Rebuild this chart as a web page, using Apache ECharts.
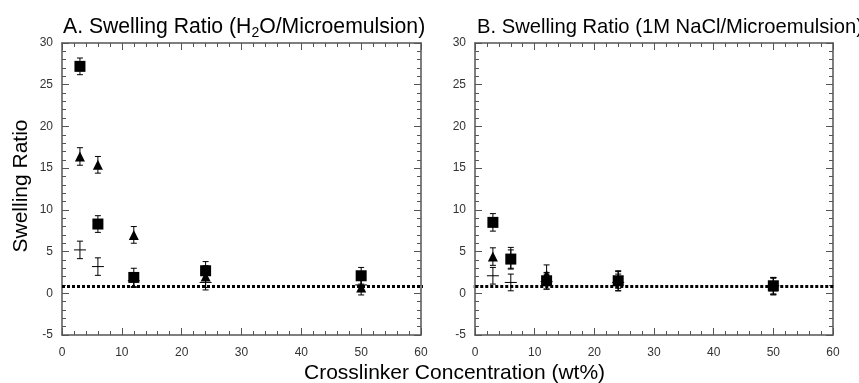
<!DOCTYPE html>
<html>
<head>
<meta charset="utf-8">
<script src="https://cdn.jsdelivr.net/npm/echarts@6/dist/echarts.min.js"></script>
<style>
  html, body { margin: 0; padding: 0; background: #fff; }
  #chart { width: 859px; height: 383px; }
</style>
</head>
<body>
<div id="chart"></div>
<script>
// crosslinker concentration (wt%)
const xConc = [3, 6, 12, 24, 50];

// panel A: H2O / microemulsion
const aSquare = [27.2, 8.3, 1.9, 2.7, 2.1];
const aSquareErr = [1.0, 1.0, 1.1, 1.1, 1.0];
const aTri = [16.4, 15.4, 7.0, 2.0, 0.7];
const aTriErr = [1.05, 1.0, 1.0, 1.3, 0.9];
const aCross = [5.2, 3.2, 1.5, 1.3, 1.0];
const aCrossErr = [1.05, 1.05, 0.8, 0.9, 0.8];

// panel B: 1M NaCl / microemulsion
const bSquare = [8.5, 4.1, 1.5, 1.5, 0.9];
const bSquareErr = [1.05, 1.1, 1.0, 1.2, 1.0];
const bTri = [4.4, 4.2, 2.2, 1.6, 0.8];
const bTriErr = [1.05, 1.3, 1.2, 1.0, 1.0];
const bCross = [2.1, 1.3, 1.4, 1.3, 0.9];
const bCrossErr = [1.0, 1.0, 0.9, 1.0, 1.0];

// reference line (ratio ~1) drawn across both panels
const refY = 0.8;
const refXA = [0, 61.2];
const refXB = [-7.5, 60.5];

const FONT = '"Liberation Sans", Arial, sans-serif';
const AXIS_COLOR = '#555';

function errItem(withDash) {
  return (params, api) => {
    const x = api.value(0), y = api.value(1), e = api.value(2);
    const top = api.coord([x, y + e]);
    const bot = api.coord([x, y - e]);
    const mid = api.coord([x, y]);
    const style = { stroke: '#000', lineWidth: 1 };
    const children = [
      { type: 'line', shape: { x1: top[0], y1: top[1], x2: bot[0], y2: bot[1] }, style },
      { type: 'line', shape: { x1: top[0] - 3, y1: top[1], x2: top[0] + 3, y2: top[1] }, style },
      { type: 'line', shape: { x1: bot[0] - 3, y1: bot[1], x2: bot[0] + 3, y2: bot[1] }, style },
    ];
    if (withDash) {
      children.push({ type: 'line', shape: { x1: mid[0] - 6, y1: mid[1], x2: mid[0] + 6, y2: mid[1] }, style });
    }
    return { type: 'group', children };
  };
}

function zip(xs, ys, es) {
  return xs.map((x, i) => (es ? [x, ys[i], es[i]] : [x, ys[i]]));
}

function axesFor(gridIndex) {
  const tick = { show: true, inside: true, length: 7, lineStyle: { color: AXIS_COLOR, width: 1 } };
  const minor = { show: true, splitNumber: 5, length: 4, lineStyle: { color: AXIS_COLOR, width: 1 } };
  const line = { show: true, onZero: false, lineStyle: { color: AXIS_COLOR, width: 1.5 } };
  const label = { color: '#333', fontSize: 12, fontFamily: FONT };
  return {
    x: [
      { gridIndex, type: 'value', min: 0, max: 60, interval: 10, position: 'bottom',
        axisLine: line, axisTick: tick, minorTick: minor, splitLine: { show: false },
        axisLabel: Object.assign({ margin: 12 }, label) },
      { gridIndex, type: 'value', min: 0, max: 60, interval: 10, position: 'top',
        axisLine: line, axisTick: tick, minorTick: minor, splitLine: { show: false },
        axisLabel: { show: false } },
    ],
    y: [
      { gridIndex, type: 'value', min: -5, max: 30, interval: 5, position: 'left',
        axisLine: line, axisTick: tick, minorTick: minor, splitLine: { show: false },
        axisLabel: Object.assign({ margin: 9 }, label),
        name: gridIndex === 0 ? 'Swelling Ratio' : '', nameLocation: 'middle', nameGap: 30,
        nameTextStyle: { fontSize: 21, color: '#000', fontFamily: FONT, padding: [0, 0, 0, 6] } },
      { gridIndex, type: 'value', min: -5, max: 30, interval: 5, position: 'right',
        axisLine: line, axisTick: tick, minorTick: minor, splitLine: { show: false },
        axisLabel: { show: false } },
    ],
  };
}

function panelSeries(p, sq, sqE, tri, triE, cr, crE, refX) {
  const xi = p * 2, yi = p * 2;
  return [
    { type: 'line', xAxisIndex: xi, yAxisIndex: yi, data: refX.map((x) => [x, refY]),
      symbol: 'none', clip: false, z: 1,
      lineStyle: { color: '#000', width: 3, type: [3, 2] } },
    { type: 'custom', xAxisIndex: xi, yAxisIndex: yi, renderItem: errItem(true), data: zip(xConc, cr, crE), z: 3 },
    { type: 'custom', xAxisIndex: xi, yAxisIndex: yi, renderItem: errItem(false), data: zip(xConc, tri, triE), z: 3 },
    { type: 'scatter', xAxisIndex: xi, yAxisIndex: yi, symbol: 'triangle', symbolSize: 10,
      itemStyle: { color: '#000', opacity: 1 }, data: zip(xConc, tri), z: 4 },
    { type: 'custom', xAxisIndex: xi, yAxisIndex: yi, renderItem: errItem(false), data: zip(xConc, sq, sqE), z: 3 },
    { type: 'scatter', xAxisIndex: xi, yAxisIndex: yi, symbol: 'rect', symbolSize: 11,
      itemStyle: { color: '#000', opacity: 1 }, data: zip(xConc, sq), z: 5 },
  ];
}

const axA = axesFor(0);
const axB = axesFor(1);

const chart = echarts.init(document.getElementById('chart'));
chart.setOption({
  animation: false,
  backgroundColor: '#fff',
  title: [
    { left: 58, top: 8,
      text: '{a|A. Swelling Ratio (H}{s|2}{a|O/Microemulsion)}',
      textStyle: { fontWeight: 'normal', rich: {
        a: { fontSize: 21.2, fontWeight: 'normal', color: '#000', fontFamily: FONT, lineHeight: 28 },
        s: { fontSize: 14, fontWeight: 'normal', color: '#000', fontFamily: FONT, lineHeight: 28, padding: [12, 0, 0, 0] },
      } } },
    { left: 472, top: 8, text: 'B. Swelling Ratio (1M NaCl/Microemulsion)',
      textStyle: { fontSize: 20.2, fontWeight: 'normal', color: '#000', fontFamily: FONT, lineHeight: 28 } },
    { left: 299, top: 358, text: 'Crosslinker Concentration (wt%)',
      textStyle: { fontSize: 21, fontWeight: 'normal', color: '#000', fontFamily: FONT } },
  ],
  grid: [
    { left: 62, top: 43, width: 359, height: 292 },
    { left: 475, top: 43, width: 358, height: 292 },
  ],
  xAxis: axA.x.concat(axB.x),
  yAxis: axA.y.concat(axB.y),
  series: panelSeries(0, aSquare, aSquareErr, aTri, aTriErr, aCross, aCrossErr, refXA)
    .concat(panelSeries(1, bSquare, bSquareErr, bTri, bTriErr, bCross, bCrossErr, refXB)),
});
</script>
</body>
</html>
